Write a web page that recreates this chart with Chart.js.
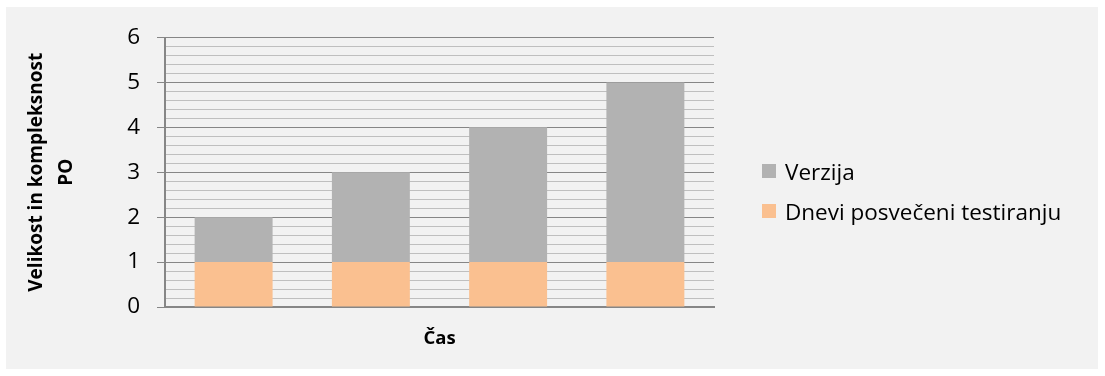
<!DOCTYPE html>
<html>
<head>
<meta charset="utf-8">
<script src="https://cdn.jsdelivr.net/npm/chart.js@4/dist/chart.umd.min.js"></script>
<style>
  html, body { margin: 0; padding: 0; background: #ffffff; }
  #frame {
    position: absolute; left: 6px; top: 7px; width: 1092px; height: 362px;
    background: #f2f2f2; font-family: "Open Sans", sans-serif;
  }
  #chart { position: absolute; left: 0; top: 0; }
  #legend { position: absolute; left: 756px; top: 144px; }
  .item { position: relative; height: 40px; display: flex; align-items: center; font-size: 22.5px; color: #000; white-space: nowrap; }
  .swatch { width: 14px; height: 14px; margin-right: 9px; flex: none; }
</style>
</head>
<body>
<div id="frame">
  <canvas id="chart" width="1092" height="362"></canvas>
  <div id="legend"></div>
</div>
<script>
// Categories along the time axis (labels are not shown)
const categories = ['1', '2', '3', '4'];
// Days spent on testing (bottom segment)
const testingDays = [1, 1, 1, 1];
// Version size on top of the testing days
const versionValues = [1, 2, 3, 4];
// Major tick labels on the value axis
const yTickLabels = [0, 1, 2, 3, 4, 5, 6];

const FONT = '"Open Sans", sans-serif';
const MAJOR = '#868686';
const MINOR = '#bfbfbf';

const isMajor = v => yTickLabels.some(t => Math.abs(t - v) < 1e-6);

const datasets = [
  { label: 'Dnevi posvečeni testiranju', data: testingDays, backgroundColor: '#fac090' },
  { label: 'Verzija', data: versionValues, backgroundColor: '#b2b2b2' }
];

const chart = new Chart(document.getElementById('chart'), {
  type: 'bar',
  data: {
    labels: categories,
    datasets: datasets.map(d => Object.assign({
      borderWidth: 0,
      barPercentage: 0.568,
      categoryPercentage: 1
    }, d))
  },
  options: {
    responsive: false,
    animation: false,
    layout: { padding: { left: 0, top: 27, right: 384, bottom: 0 } },
    plugins: { legend: { display: false }, tooltip: { enabled: false } },
    scales: {
      x: {
        stacked: true,
        grid: { display: false },
        border: { display: true, color: MAJOR, width: 2 },
        ticks: { display: false },
        title: {
          display: true, text: 'Čas', color: '#000',
          font: { family: FONT, size: 18.5, weight: 'bold', lineHeight: 1.2 },
          padding: { top: 0, bottom: 19 }
        },
        afterFit(scale) { scale.height = 62; }
      },
      y: {
        stacked: true,
        min: 0, max: 6,
        ticks: {
          stepSize: 0.2, autoSkip: false, padding: 17, color: '#000',
          font: { family: FONT, size: 22.5 },
          callback: v => isMajor(v) ? String(Math.round(v)) : ''
        },
        grid: {
          lineWidth: 1, tickLength: 8,
          color: c => isMajor(c.tick.value) ? MAJOR : MINOR,
          tickColor: c => isMajor(c.tick.value) ? MAJOR : 'rgba(0,0,0,0)'
        },
        border: { color: MAJOR, width: 2 },
        title: {
          display: true, text: ['Velikost in kompleksnost', 'PO'], color: '#000',
          font: { family: FONT, size: 19, weight: 'bold', lineHeight: 1.58 },
          padding: { top: 16, bottom: 0 }
        },
        afterFit(scale) { scale.width = 159; }
      }
    }
  }
});

// Legend listed top segment first, as in a stacked column legend
const legend = document.getElementById('legend');
chart.data.datasets.slice().reverse().forEach(ds => {
  const item = document.createElement('div');
  item.className = 'item';
  const sw = document.createElement('span');
  sw.className = 'swatch';
  sw.style.background = ds.backgroundColor;
  const tx = document.createElement('span');
  tx.textContent = ds.label;
  item.appendChild(sw);
  item.appendChild(tx);
  legend.appendChild(item);
});
</script>
</body>
</html>
